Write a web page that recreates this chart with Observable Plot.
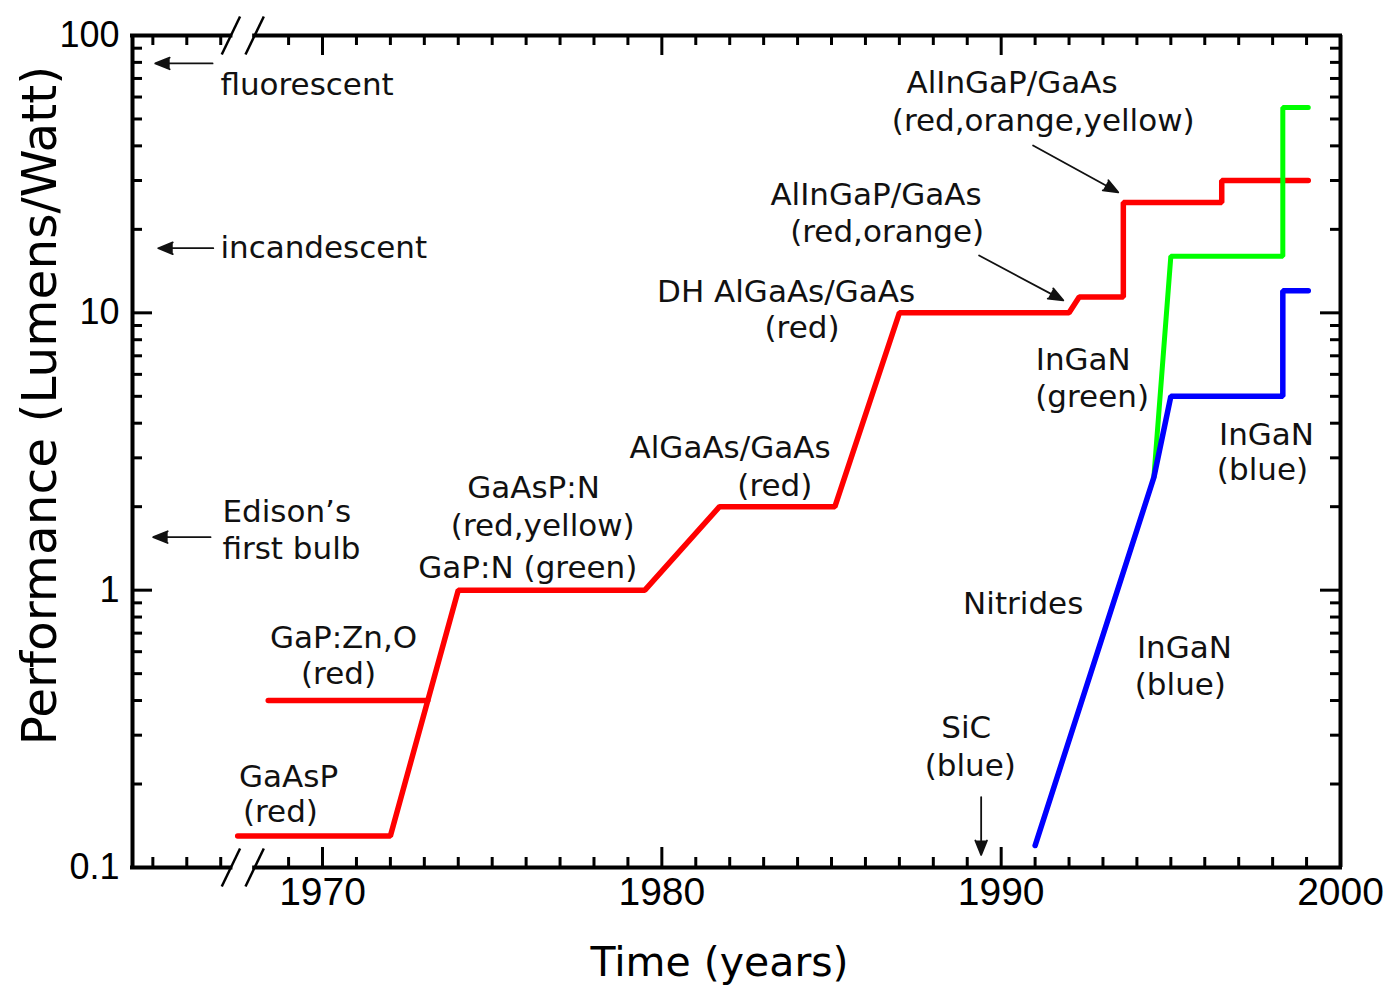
<!DOCTYPE html>
<html>
<head>
<meta charset="utf-8">
<script src="https://cdn.jsdelivr.net/npm/d3@7"></script>
<script src="https://cdn.jsdelivr.net/npm/@observablehq/plot@0.6"></script>
<style>
  html, body { margin: 0; padding: 0; background: #fff; }
  #chart svg { display: block; }
</style>
</head>
<body>
<div id="chart"></div>
<script>
// ---- Data ----
const redYears   = [1967.5, 1972.0, 1974.0, 1979.5, 1981.7, 1985.1, 1987.0, 1992.0, 1992.3, 1993.6, 1993.6, 1996.5, 1996.5, 1999.05];
const redValues  = [0.13,   0.13,   1,      1,      2,      2,      10,     10,     11.4,   11.4,   25,     25,     30,     30];
const znoYears   = [1968.4, 1973.1];
const znoValues  = [0.4,    0.4];
const blueYears  = [1991.0, 1994.5, 1995.0, 1998.3, 1998.3, 1999.05];
const blueValues = [0.12,   2.55,   5,      5,      12,     12];
const greenYears = [1994.5, 1995.0, 1998.3, 1998.3, 1999.05];
const greenValues= [2.55,   16,     16,     55,     55];

const xTickLabels = [1970, 1980, 1990, 2000];
const yTickLabels = [0.1, 1, 10, 100];
const xDomain = [1964.4, 2000];
const yDomain = [0.1, 100];
const breakYears = [1967.3, 1968.0];

// reference light sources (left side)
const refTexts  = ["fluorescent", "incandescent", "Edison\u2019s", "first bulb"];
const refYears  = [1966.99, 1966.99, 1967.05, 1967.05];
const refValues = [66.0, 17.1, 1.91, 1.405];

// annotation labels
const noteTexts = ["GaAsP", "(red)", "GaP:Zn,O", "(red)", "GaAsP:N", "(red,yellow)", "GaP:N (green)",
  "AlGaAs/GaAs", "(red)", "DH AlGaAs/GaAs", "(red)", "AlInGaP/GaAs", "(red,orange)",
  "AlInGaP/GaAs", "(red,orange,yellow)", "InGaN", "(green)", "InGaN", "(blue)",
  "Nitrides", "InGaN", "(blue)", "SiC", "(blue)"];
const noteYears = [1969.0, 1968.76, 1970.62, 1970.47, 1976.22, 1976.49, 1976.05,
  1982.01, 1983.33, 1983.66, 1984.13, 1986.31, 1986.64,
  1990.32, 1991.24, 1992.42, 1992.68, 1997.82, 1997.70,
  1990.65, 1995.40, 1995.28, 1988.97, 1989.09];
const noteValues = [0.212, 0.1585, 0.671, 0.498, 2.33, 1.70, 1.20,
  3.25, 2.37, 11.86, 8.79, 26.5, 19.5,
  67.1, 49.0, 6.74, 4.96, 3.62, 2.71,
  0.890, 0.618, 0.455, 0.318, 0.232];

// arrows
const arrowX1 = [1966.76, 1966.78, 1966.70, 1990.94, 1989.35, 1989.41];
const arrowY1 = [79.3,    17.1,    1.553,   40.1,    16.1,    0.1795];
const arrowX2 = [1965.07, 1965.16, 1965.01, 1993.45, 1991.83, 1989.41];
const arrowY2 = [79.3,    17.1,    1.553,   27.2,    11.09,   0.111];

// ---- Build tables ----
const series = (ys, vs, name) => ys.map((y, i) => ({year: y, value: vs[i], series: name}));
const red = series(redYears, redValues, "red");
const zno = series(znoYears, znoValues, "zno");
const blue = series(blueYears, blueValues, "blue");
const green = series(greenYears, greenValues, "green");
const refs = refTexts.map((t, i) => ({text: t, year: refYears[i], value: refValues[i]}));
const notes = noteTexts.map((t, i) => ({text: t, year: noteYears[i], value: noteValues[i]}));
const arrows = arrowX1.map((x, i) => ({x1: x, y1: arrowY1[i], x2: arrowX2[i], y2: arrowY2[i]}));

// ---- Layout ----
const W = 1391, H = 999;
const mL = 132, mR = 51, mT = 35, mB = 132;
const innerW = W - mL - mR, innerH = H - mT - mB;

const xMajor = [1970, 1980, 1990];
const xMinor = d3.range(1965, 2000).filter(y => y % 10 !== 0 && y !== 1968);
const yMajor = [1, 10];
const yMinor = [0.1, 1, 10].flatMap(d => d3.range(2, 10).map(k => k * d));

const slashFactor = Math.pow(10, 19 / (innerH / 3));
const slashHalf = 0.27;
const slashes = [];
for (const edge of yDomain) for (const b of breakYears)
  slashes.push({x1: b - slashHalf, y1: edge / slashFactor, x2: b + slashHalf, y2: edge * slashFactor});

const annFont = "DejaVu Sans";
const tickFont = "Liberation Sans";

const chart = Plot.plot({
  width: W, height: H,
  marginLeft: mL, marginRight: mR, marginTop: mT, marginBottom: mB,
  x: {domain: xDomain, axis: null},
  y: {type: "log", domain: yDomain, axis: null},
  style: {background: "#fff", color: "#000"},
  marks: [
    // frame
    Plot.ruleX(xDomain, {strokeWidth: 4, stroke: "#000"}),
    Plot.ruleY(yDomain, {x1: xDomain[0], x2: breakYears[0], strokeWidth: 4, stroke: "#000", strokeLinecap: "square"}),
    Plot.ruleY(yDomain, {x1: breakYears[1], x2: xDomain[1], strokeWidth: 4, stroke: "#000", strokeLinecap: "square"}),
    // ticks (inward, all four sides)
    Plot.tickX(xMinor, {x: d => d, insetTop: innerH - 10, strokeWidth: 3}),
    Plot.tickX(xMinor, {x: d => d, insetBottom: innerH - 10, strokeWidth: 3}),
    Plot.tickX(xMajor, {x: d => d, insetTop: innerH - 20, strokeWidth: 3}),
    Plot.tickX(xMajor, {x: d => d, insetBottom: innerH - 20, strokeWidth: 3}),
    Plot.tickY(yMinor, {y: d => d, insetRight: innerW - 10, strokeWidth: 3}),
    Plot.tickY(yMinor, {y: d => d, insetLeft: innerW - 10, strokeWidth: 3}),
    Plot.tickY(yMajor, {y: d => d, insetRight: innerW - 20, strokeWidth: 3}),
    Plot.tickY(yMajor, {y: d => d, insetLeft: innerW - 20, strokeWidth: 3}),
    // axis break
    Plot.link(slashes, {x1: "x1", y1: "y1", x2: "x2", y2: "y2", stroke: "#000", strokeWidth: 2.5}),
    // tick labels
    Plot.text(xTickLabels, {x: d => d, text: d => String(d), frameAnchor: "bottom", lineAnchor: "top", dy: 10,
      fontSize: 39, fontFamily: tickFont, fill: "#000"}),
    Plot.text(yTickLabels, {y: d => d, text: d => String(d), frameAnchor: "left", textAnchor: "end", lineAnchor: "middle", dx: -13,
      fontSize: 36, fontFamily: tickFont, fill: "#000"}),
    // axis titles
    Plot.text(["Time (years)"], {text: d => d, frameAnchor: "bottom", textAnchor: "middle", lineAnchor: "middle", dx: -17, dy: 95,
      fontSize: 41, fontFamily: annFont, fill: "#000"}),
    Plot.text(["Performance (Lumens/Watt)"], {text: d => d, frameAnchor: "left", textAnchor: "middle", lineAnchor: "middle", rotate: -90, dx: -92, dy: -46,
      fontSize: 48.5, fontFamily: annFont, fill: "#000"}),
    // data lines
    Plot.line(red, {x: "year", y: "value", stroke: "#ff0000", strokeWidth: 5.5, strokeLinecap: "round", strokeLinejoin: "miter"}),
    Plot.line(zno, {x: "year", y: "value", stroke: "#ff0000", strokeWidth: 5.5, strokeLinecap: "round"}),
    Plot.line(green, {x: "year", y: "value", stroke: "#00ff00", strokeWidth: 5, strokeLinecap: "round", strokeLinejoin: "miter"}),
    Plot.line(blue, {x: "year", y: "value", stroke: "#0000ff", strokeWidth: 5.5, strokeLinecap: "round", strokeLinejoin: "miter"}),
    // arrows
    Plot.arrow(arrows, {x1: "x1", y1: "y1", x2: "x2", y2: "y2", stroke: "#111", fill: "#111",
      strokeWidth: 1.8, headLength: 13, headAngle: 44, strokeLinejoin: "miter"}),
    // annotation texts
    Plot.text(refs, {x: "year", y: "value", text: "text", textAnchor: "start", lineAnchor: "middle",
      fontSize: 31, fontFamily: annFont, fill: "#111"}),
    Plot.text(notes, {x: "year", y: "value", text: "text", textAnchor: "middle", lineAnchor: "middle",
      fontSize: 31, fontFamily: annFont, fill: "#111"})
  ]
});
document.getElementById("chart").appendChild(chart);
</script>
</body>
</html>
